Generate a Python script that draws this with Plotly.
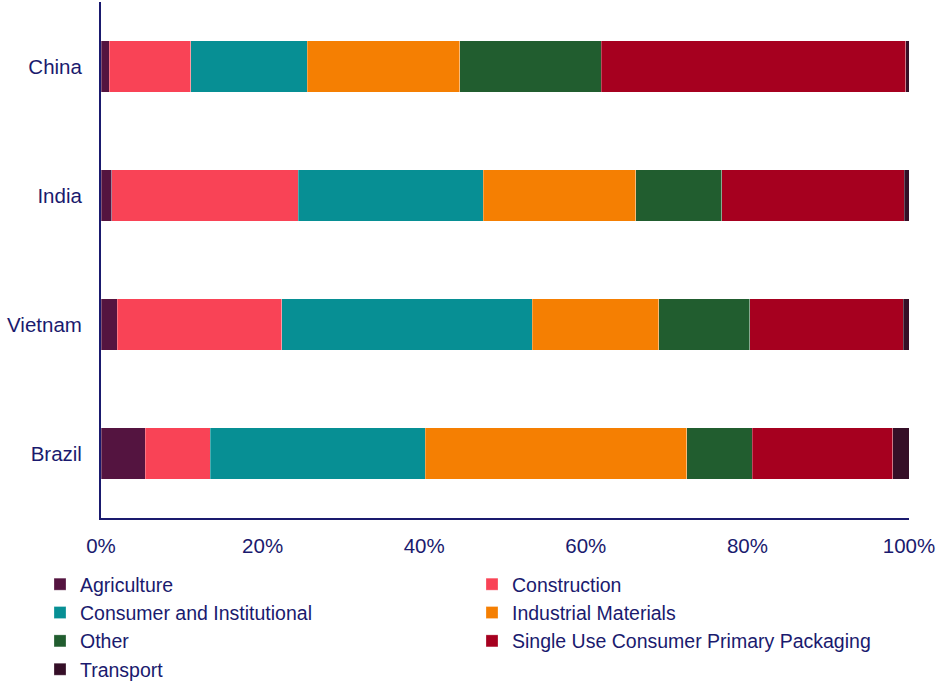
import plotly.graph_objects as go

countries = ["China", "India", "Vietnam", "Brazil"]
sectors = ["Agriculture", "Construction", "Consumer and Institutional",
           "Industrial Materials", "Other", "Single Use Consumer Primary Packaging",
           "Transport"]

agriculture = [1.0, 1.3, 2.0, 5.5]
construction = [10.1, 23.1, 20.4, 8.0]
consumer_institutional = [14.4, 22.9, 31.0, 26.6]
industrial_materials = [18.9, 18.9, 15.6, 32.4]
other = [17.5, 10.6, 11.3, 8.1]
single_use_packaging = [37.7, 22.6, 19.0, 17.4]
transport = [0.4, 0.6, 0.7, 2.0]

series = [agriculture, construction, consumer_institutional, industrial_materials,
          other, single_use_packaging, transport]
colors = ["#541440", "#F94356", "#078F94", "#F57F02", "#215D2F", "#A6001F", "#350F27"]
# legend column for each sector (left column / right column)
legend_ids = ["legend", "legend2", "legend", "legend2", "legend", "legend2", "legend"]

NAVY = "#1A1A6E"
FONT = "Liberation Sans, Arial, sans-serif"

fig = go.Figure()
for name, vals, col, lg in zip(sectors, series, colors, legend_ids):
    fig.add_trace(go.Bar(
        y=countries, x=[v / 100 for v in vals], name=name, orientation="h",
        marker=dict(color=col, line=dict(width=0.6, color="rgba(255,255,255,0.45)")),
        legend=lg, hoverinfo="x+y+name",
    ))

legend_common = dict(orientation="v", xref="container", yref="container",
                     yanchor="top", xanchor="left", traceorder="normal",
                     font=dict(family=FONT, size=19.5, color=NAVY),
                     itemwidth=30, bgcolor="rgba(0,0,0,0)", borderwidth=0)

fig.update_layout(
    barmode="stack", bargap=0.597,
    width=941, height=681,
    margin=dict(l=101, r=32, t=2, b=163, autoexpand=False),
    paper_bgcolor="white", plot_bgcolor="white",
    font=dict(family=FONT, size=20.5, color=NAVY),
    showlegend=True,
    legend=dict(x=40 / 941, y=1 - 565 / 681, **legend_common),
    legend2=dict(x=472 / 941, y=1 - 565 / 681, **legend_common),
)
fig.update_xaxes(range=[0, 1], tickvals=[0, 0.2, 0.4, 0.6, 0.8, 1.0],
                 tickformat=".0%", showgrid=False, zeroline=False,
                 showline=True, linecolor=NAVY, linewidth=2,
                 ticks="", ticklabelstandoff=8)
fig.update_yaxes(autorange="reversed", showgrid=False, zeroline=False,
                 showline=True, linecolor=NAVY, linewidth=2,
                 ticks="", ticklabelstandoff=13)

fig.write_html("out.html")
